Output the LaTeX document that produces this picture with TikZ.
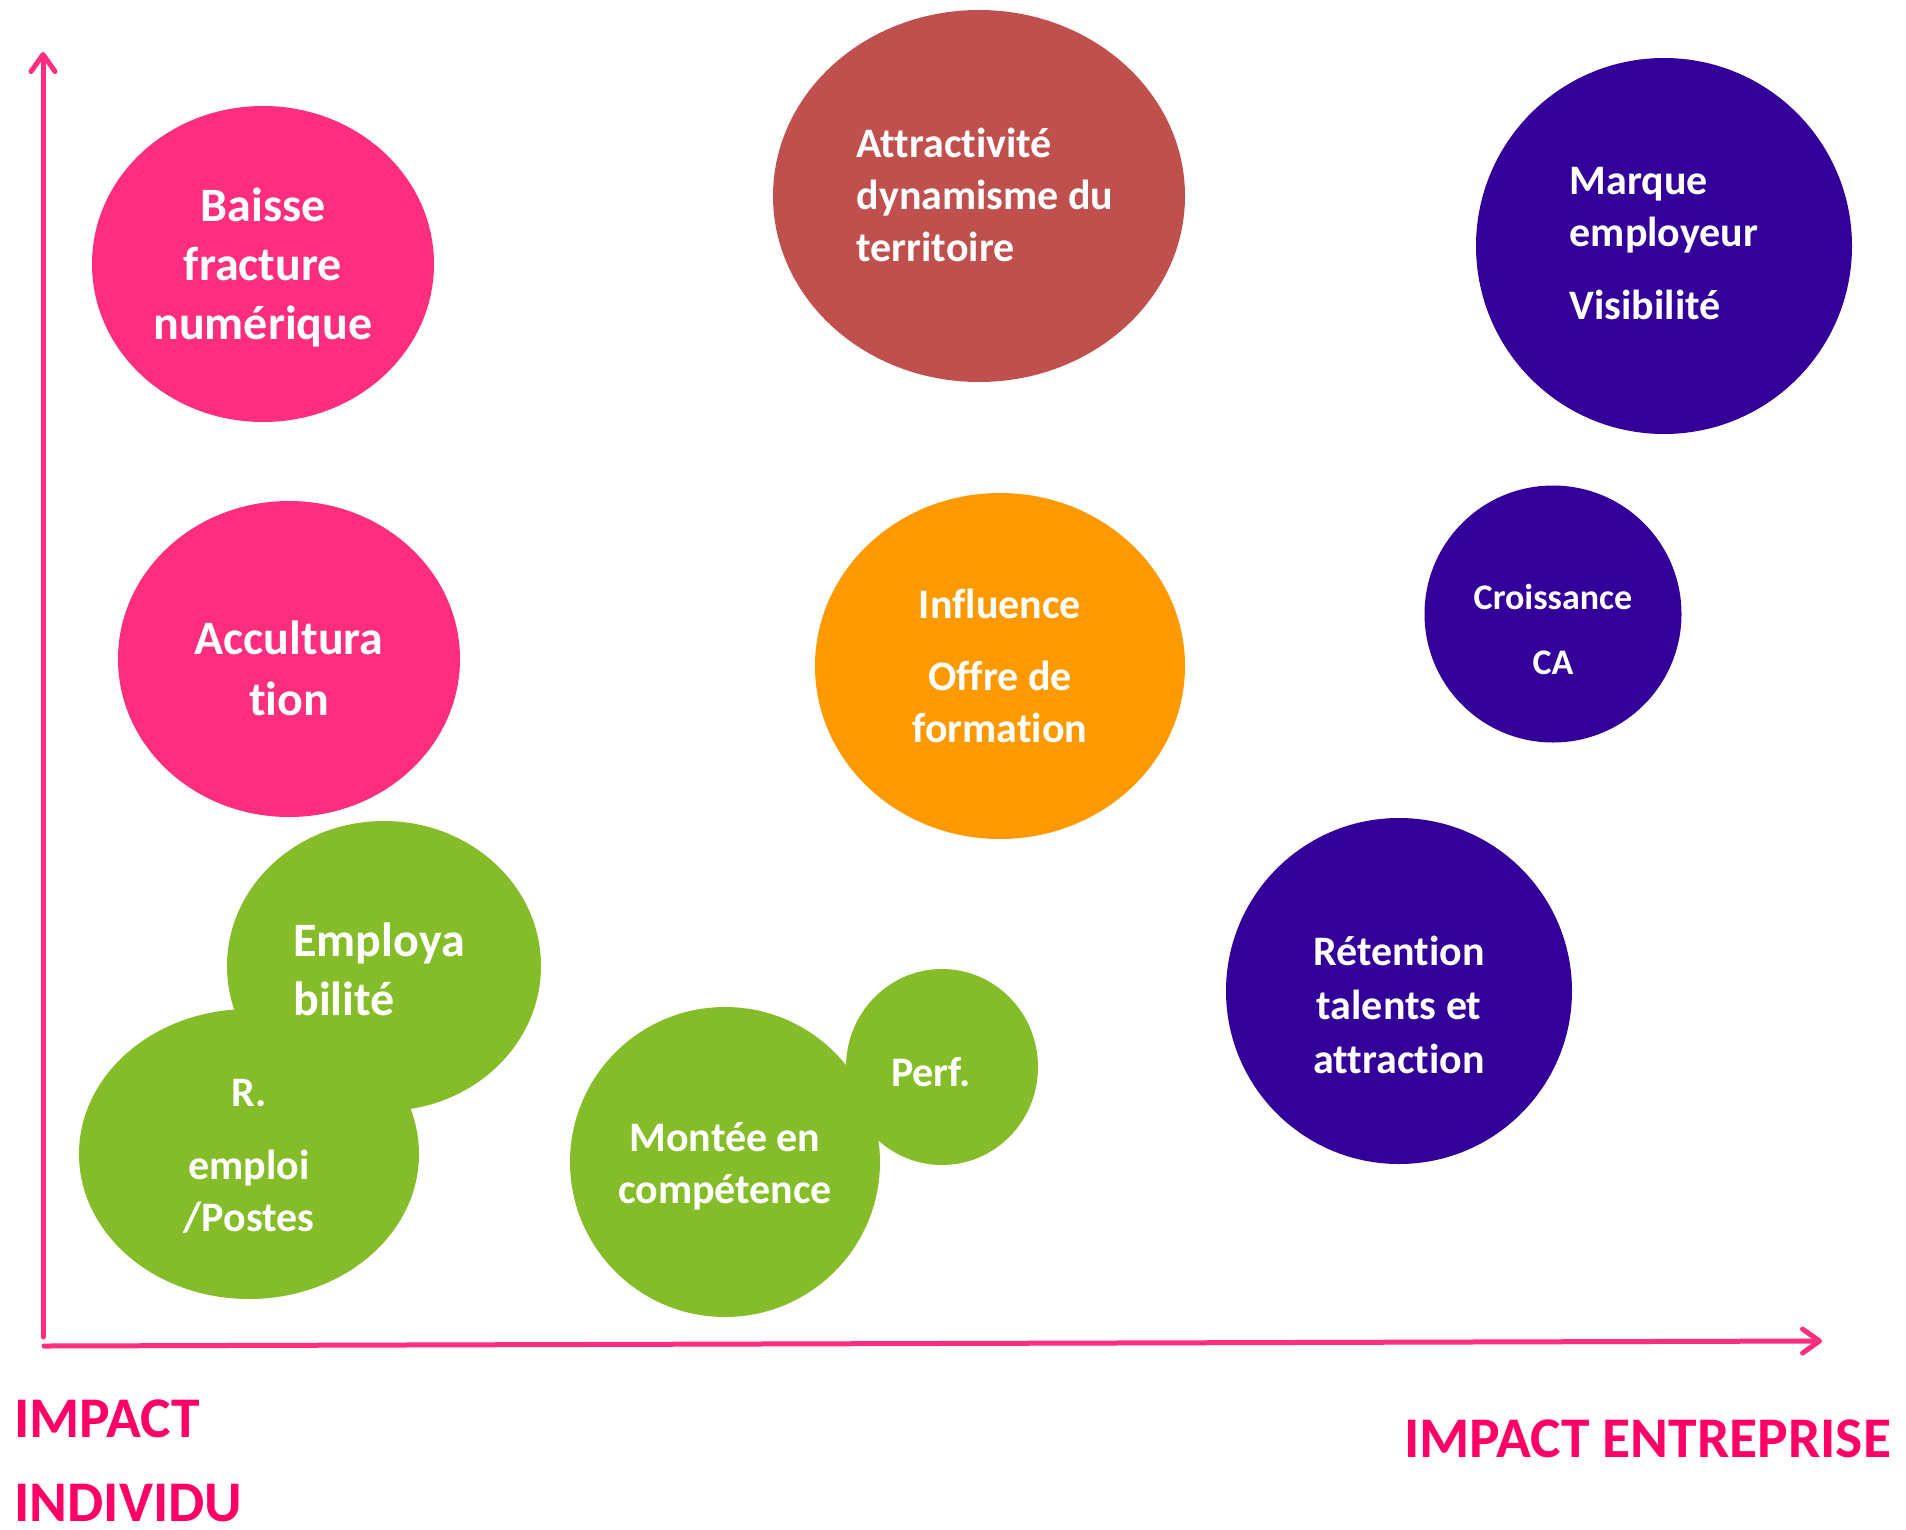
\documentclass[tikz,border=0pt]{standalone}
\usepackage{fontspec}
\setmainfont{Carlito}[Ligatures={NoCommon,NoContextual}]
\usetikzlibrary{shapes.geometric,arrows.meta}
\definecolor{rose}{HTML}{FF2D7D}
\definecolor{rosetexte}{HTML}{FF0066}
\definecolor{vert}{HTML}{85BC29}
\definecolor{violet}{HTML}{330099}
\definecolor{brique}{HTML}{C0504D}
\definecolor{orangevif}{HTML}{FF9900}
\tikzstyle{bulle} = [ellipse, inner sep=0pt]
\tikzstyle{texte} = [inner sep=0pt, text=white, align=center, font=\fontsize{42}{52}\selectfont\bfseries]
\tikzstyle{grand} = [font=\fontsize{48}{59}\selectfont\bfseries]
\tikzstyle{axe} = [line width=5pt, draw=rose, line cap=round, -{Straight Barb[length=17pt,width=24pt,round]}]
\tikzstyle{titre} = [text=rosetexte, inner sep=0pt, font=\fontsize{57.5}{68}\selectfont\bfseries]

\begin{document}
\begin{tikzpicture}[x=1pt,y=-1pt]
\useasboundingbox (0,0) rectangle (1906,1529);
% bulles
\node (baisse) [bulle, fill=rose, minimum width=342pt, minimum height=316pt] at (263,264) {};
\node (accult) [bulle, fill=rose, minimum width=342pt, minimum height=316pt] at (289,659) {};
\node (attract) [bulle, fill=brique, minimum width=412pt, minimum height=372pt] at (979,196) {};
\node (marque) [bulle, fill=violet, minimum size=376pt] at (1664,246) {};
\node (croiss) [bulle, fill=violet, minimum size=257pt] at (1553,614) {};
\node (influ) [bulle, fill=orangevif, minimum width=370pt, minimum height=346pt] at (1000,666) {};
\node (retent) [bulle, fill=violet, minimum size=346pt] at (1399,991) {};
\node (employa) [bulle, fill=vert, minimum width=314pt, minimum height=290pt] at (384,966) {};
\node (emploi) [bulle, fill=vert, minimum width=340pt, minimum height=290pt] at (249,1154) {};
\node (montee) [bulle, fill=vert, minimum size=310pt] at (725,1162) {};
\node (perf) [bulle, fill=vert, minimum width=192pt, minimum height=196pt] at (942,1067) {};
% textes des bulles
\node (tbaisse) [texte, grand] at ([yshift=-3pt]baisse) {Baisse\\fracture\\numérique};
\node (taccult) [texte, font=\fontsize{48}{61}\selectfont\bfseries] at ([yshift=-9pt]accult) {Accultura\\tion};
\node (tattract) [texte, align=left] at ([xshift=6pt,yshift=1pt]attract) {Attractivité\\dynamisme du\\territoire};
\node (tmarque) [texte, align=left] at ([yshift=2pt]marque) {Marque\\employeur\\[21pt]Visibilité};
\node (tcroiss) [texte, font=\fontsize{36}{44}\selectfont\bfseries] at ([yshift=-15pt]croiss) {Croissance\\[21pt]CA};
\node (tinflu) [texte] at (influ) {Influence\\[20pt]Offre de\\formation};
\node (tretent) [texte, font=\fontsize{42}{54}\selectfont\bfseries] at ([yshift=-14pt]retent) {Rétention\\talents et\\attraction};
\node (temploya) [texte, grand, align=left] at ([xshift=-5pt,yshift=-3pt]employa) {Employa\\bilité};
\node (temploi) [texte] at ([yshift=-2pt]emploi) {R.\\[21pt]emploi\\/Postes};
\node (tmontee) [texte] at ([yshift=-4pt]montee) {Montée en\\compétence};
\node (tperf) [texte] at ([xshift=-11pt,yshift=-5pt]perf) {Perf.};
% axes
\coordinate (oy) at (43,1337);
\coordinate (ytip) at (43,52);
\coordinate (ox) at (44,1346);
\coordinate (xtip) at (1822,1341);
\draw [axe] (oy) -- (ytip);
\draw [axe] (ox) -- (xtip);
% titres
\node (impact) [titre, anchor=base west] at (14,1437) {IMPACT};
\node (individu) [titre, anchor=base west] at (14,1521) {INDIVIDU};
\node (entreprise) [titre, anchor=base west] at (1404,1457) {IMPACT ENTREPRISE};
\end{tikzpicture}
\end{document}
